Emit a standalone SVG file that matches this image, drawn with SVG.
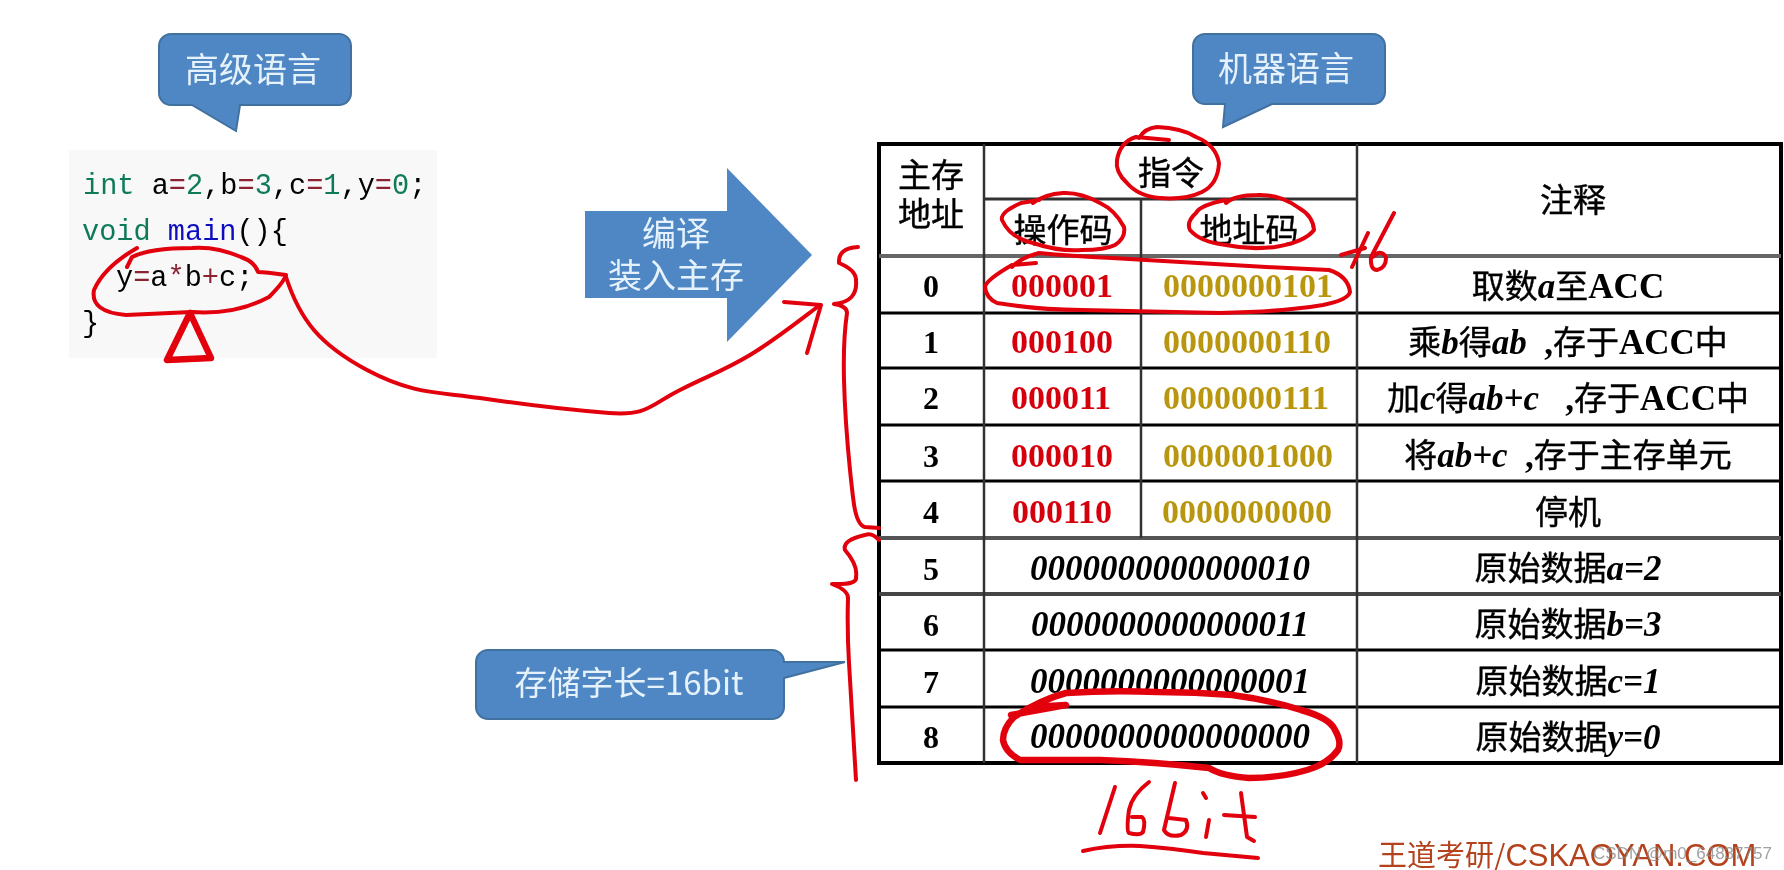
<svg xmlns="http://www.w3.org/2000/svg" width="1784" height="870" viewBox="0 0 1784 870">
<defs>
<style>
.cjk{font-family:"Noto Sans CJK SC","Noto Sans",sans-serif}
.ser{font-family:"Liberation Serif","Noto Sans CJK SC",serif}
.call{fill:#4f87c4;stroke:#41719f;stroke-width:2}
.ct{font-family:"Noto Sans CJK SC","Noto Sans",sans-serif;font-size:34px;fill:#e6f2fb;text-anchor:middle}
.code{font-family:"Liberation Mono",monospace;font-size:28.6px;fill:#000}
.kw{fill:#0f7a5a}.num{fill:#0f7a5a}.op{fill:#8a2030}.fn{fill:#1010c0}
.h{font-family:"Noto Sans CJK SC",sans-serif;font-size:33px;fill:#000;stroke:#000;stroke-width:.4;text-anchor:middle}
.addr{font-family:"Liberation Serif",serif;font-weight:bold;font-size:32px;fill:#000;text-anchor:middle}
.opc{font-family:"Liberation Serif",serif;font-weight:bold;font-size:34px;fill:#d60010;text-anchor:middle}
.adc{font-family:"Liberation Serif",serif;font-weight:bold;font-size:34px;fill:#b8960f;text-anchor:middle}
.dat{font-family:"Liberation Serif",serif;font-weight:bold;font-style:italic;font-size:35px;fill:#000;text-anchor:middle}
.note{font-family:"Noto Sans CJK SC",sans-serif;font-size:33px;fill:#000;stroke:#000;stroke-width:.4;text-anchor:middle}
.note .i{font-family:"Liberation Serif",serif;font-weight:bold;font-style:italic;font-size:35px;stroke:none}
.note .b{font-family:"Liberation Serif",serif;font-weight:bold;font-size:35px;stroke:none}
.grid{stroke:#000;fill:none}
.ink{fill:none;stroke:#e2000f;stroke-width:4;stroke-linecap:round;stroke-linejoin:round}
.ink2{fill:none;stroke:#e2000f;stroke-width:6.5;stroke-linecap:round;stroke-linejoin:round}
</style>
<filter id="soft" x="-2%" y="-2%" width="104%" height="104%"><feGaussianBlur stdDeviation="0.7"/></filter>
</defs>
<rect width="1784" height="870" fill="#fff"/>
<g filter="url(#soft)">
<g id="callout-high">
<path class="call" d="M171 34H339a12 12 0 0 1 12 12V93a12 12 0 0 1-12 12H240L236 131L192 105H171a12 12 0 0 1-12-12V46a12 12 0 0 1 12-12Z"/>
<text class="ct" x="253" y="82">高级语言</text>
</g>
<g id="code-block">
<rect x="69" y="150" width="368" height="208" fill="#f8f8f8"/>
<text class="code" x="83" y="194"><tspan class="kw">int</tspan> a<tspan class="op">=</tspan><tspan class="num">2</tspan>,b<tspan class="op">=</tspan><tspan class="num">3</tspan>,c<tspan class="op">=</tspan><tspan class="num">1</tspan>,y<tspan class="op">=</tspan><tspan class="num">0</tspan>;</text>
<text class="code" x="82" y="240"><tspan class="kw">void</tspan> <tspan class="fn">main</tspan>(){</text>
<text class="code" x="116" y="286">y<tspan class="op">=</tspan>a<tspan class="op">*</tspan>b<tspan class="op">+</tspan>c;</text>
<text class="code" x="82" y="332">}</text>
</g>
<g id="arrow-compile">
<path fill="#4f87c4" d="M585 211H727V168L812 255L727 342V298H585Z"/>
<text class="ct" x="676" y="246">编译</text>
<text class="ct" x="676" y="288">装入主存</text>
</g>
<g id="callout-machine">
<path class="call" d="M1205 34H1373a12 12 0 0 1 12 12V92a12 12 0 0 1-12 12H1272L1223 127L1225 104H1205a12 12 0 0 1-12-12V46a12 12 0 0 1 12-12Z"/>
<text class="ct" x="1286" y="81">机器语言</text>
</g>
<g id="callout-word">
<path class="call" d="M488 650H772a12 12 0 0 1 12 12L845 662L784 678V707a12 12 0 0 1-12 12H488a12 12 0 0 1-12-12V662a12 12 0 0 1 12-12Z"/>
<text class="ct" x="629" y="695" style="font-size:33px">存储字长=16bit</text>
</g>
<g id="table">
<rect class="grid" x="879" y="144" width="902" height="619" stroke-width="4"/>
<g class="grid" stroke-width="3">
<path d="M984 199H1357" stroke="#333"/>
<path d="M879 256H1781" stroke="#666" stroke-width="4"/>
<path d="M879 313H1781M879 368H1781M879 425H1781M879 481H1781"/>
<path d="M879 538H1781" stroke="#555" stroke-width="4"/>
<path d="M879 594H1781" stroke="#444" stroke-width="4"/>
<path d="M879 650H1781M879 707H1781"/>
<path d="M984 144V763M1357 144V763M1141 199V538" stroke="#333" stroke-width="2.5"/>
</g>
</g>
<g id="header">
<text class="h" x="931" y="187">主存</text>
<text class="h" x="931" y="226">地址</text>
<text class="h" x="1171" y="185">指令</text>
<text class="h" x="1063" y="242">操作码</text>
<text class="h" x="1249" y="242">地址码</text>
<text class="h" x="1573" y="212">注释</text>
</g>
<g id="row-0"><text class="addr" x="931" y="297">0</text><text class="opc" x="1062" y="297">000001</text><text class="adc" x="1248" y="297">0000000101</text>
<text class="note" x="1568" y="298">取数<tspan class="i">a</tspan>至<tspan class="b">ACC</tspan></text></g>
<g id="row-1"><text class="addr" x="931" y="353">1</text><text class="opc" x="1062" y="353">000100</text><text class="adc" x="1247" y="353">0000000110</text>
<text class="note" x="1568" y="354">乘<tspan class="i">b</tspan>得<tspan class="i">ab</tspan><tspan class="b">&#160;&#160;,</tspan>存于<tspan class="b">ACC</tspan>中</text></g>
<g id="row-2"><text class="addr" x="931" y="409">2</text><text class="opc" x="1061" y="409">000011</text><text class="adc" x="1246" y="409">0000000111</text>
<text class="note" x="1568" y="410">加<tspan class="i">c</tspan>得<tspan class="i">ab+c</tspan><tspan class="b">&#160;&#160;&#160;,</tspan>存于<tspan class="b">ACC</tspan>中</text></g>
<g id="row-3"><text class="addr" x="931" y="467">3</text><text class="opc" x="1062" y="467">000010</text><text class="adc" x="1248" y="467">0000001000</text>
<text class="note" x="1568" y="467">将<tspan class="i">ab+c</tspan><tspan class="b">&#160;&#160;,</tspan>存于主存单元</text></g>
<g id="row-4"><text class="addr" x="931" y="523">4</text><text class="opc" x="1062" y="523">000110</text><text class="adc" x="1247" y="523">0000000000</text>
<text class="note" x="1568" y="524">停机</text></g>
<g id="row-5"><text class="addr" x="931" y="580">5</text><text class="dat" x="1170" y="580">0000000000000010</text>
<text class="note" x="1568" y="580">原始数据<tspan class="i">a=2</tspan></text></g>
<g id="row-6"><text class="addr" x="931" y="636">6</text><text class="dat" x="1170" y="636">0000000000000011</text>
<text class="note" x="1568" y="636">原始数据<tspan class="i">b=3</tspan></text></g>
<g id="row-7"><text class="addr" x="931" y="693">7</text><text class="dat" x="1170" y="693">0000000000000001</text>
<text class="note" x="1568" y="693">原始数据<tspan class="i">c=1</tspan></text></g>
<g id="row-8"><text class="addr" x="931" y="748">8</text><text class="dat" x="1170" y="748">0000000000000000</text>
<text class="note" x="1568" y="749">原始数据<tspan class="i">y=0</tspan></text></g>
<g id="connectors">
<path class="ink" d="M137 248Q104 267 94 290Q90 312 126 315L192 312Q236 315 269 297Q284 282 286 275Q265 272 258 272Q255 262 241 257Q215 246 192 248Q150 248 132 257L127 267"/>
<path class="ink2" d="M190 313L167 360L211 358Z"/>
<path class="ink" d="M286 277C300 320 320 345 367 370S440 392 480 398S570 410 609 413S650 405 680 390S725 370 750 355S800 320 820 305"/>
<path class="ink" d="M784 302L821 305L807 353"/>
<path class="ink" d="M858 247Q838 248 839 263Q856 270 856 280Q858 302 834 304Q847 306 847 313Q843 340 844 380T850 470Q851 480 853 497Q856 525 865 527L879 528"/>
<path class="ink" d="M879 540Q872 532 865 535Q842 540 845 550Q858 565 856 577Q858 585 832 584Q848 590 848 598Q847 630 849 663L856 780"/>
<path class="ink" d="M1139 138Q1145 128 1157 127Q1182 128 1196 137Q1216 145 1219 163Q1218 184 1202 192Q1185 200 1160 198Q1138 196 1127 183Q1115 172 1117 160Q1120 142 1136 137L1169 140"/>
<path class="ink" d="M1039 200L1021 203Q1000 212 1002 220Q1010 238 1033 243Q1060 252 1082 250Q1105 250 1115 245Q1126 238 1124 227Q1115 210 1100 203Q1080 192 1063 193Q1045 194 1033 203"/>
<path class="ink" d="M1226 200Q1200 205 1196 213Q1186 222 1190 230Q1200 242 1226 245Q1250 250 1275 247Q1305 242 1314 230Q1313 216 1299 208Q1280 194 1257 195Q1235 195 1226 203"/>
<path class="ink" d="M1036 263L1012 265Q986 280 985 287Q986 298 997 303Q1040 310 1082 310L1220 313Q1280 312 1323 305Q1348 300 1350 292Q1348 276 1329 270Q1280 268 1232 265L1112 258Q1070 256 1039 253Q1020 258 1012 267"/>
<path class="ink" d="M1341 255L1365 248M1352 267L1368 233"/>
<path class="ink" d="M1394 213L1371 257Q1370 270 1377 270Q1386 268 1386 258Q1384 252 1378 253L1371 258"/>
<path class="ink2" d="M1011 715L1066 705L1031 707M1066 693Q1110 690 1158 692Q1195 692 1232 695Q1270 700 1301 710Q1330 718 1335 730Q1342 742 1338 750Q1328 764 1307 770Q1280 778 1249 778Q1222 776 1209 768Q1155 762 1100 760L1020 760Q1005 752 1003 740Q1003 728 1014 717Q1040 700 1066 693"/>
<path class="ink" d="M1115 787L1100 833"/>
<path class="ink" d="M1149 782Q1132 795 1129 810Q1126 832 1129 833Q1140 836 1143 832Q1146 820 1142 817L1132 817"/>
<path class="ink" d="M1175 783L1164 830Q1168 838 1181 835Q1190 830 1186 820L1169 818"/>
<path class="ink" d="M1203 793L1206 798M1209 820L1206 837"/>
<path class="ink" d="M1241 793L1247 837L1254 841M1224 815L1255 817"/>
<path class="ink" d="M1083 851Q1110 845 1140 846Q1170 848 1203 853L1258 858"/>
</g>
<g id="watermark">
<text x="1378" y="866" font-family="Noto Sans CJK SC, Liberation Sans, sans-serif" font-size="29" fill="#b4431c">王道考研/<tspan font-family="Liberation Sans, sans-serif" font-size="31">CSKAOYAN.COM</tspan></text>
<text x="1593" y="859" font-family="Liberation Sans, sans-serif" font-size="17" fill="#8a8a8a" fill-opacity=".8">CSDN @m0_64837757</text>
</g>
</g>
</svg>
